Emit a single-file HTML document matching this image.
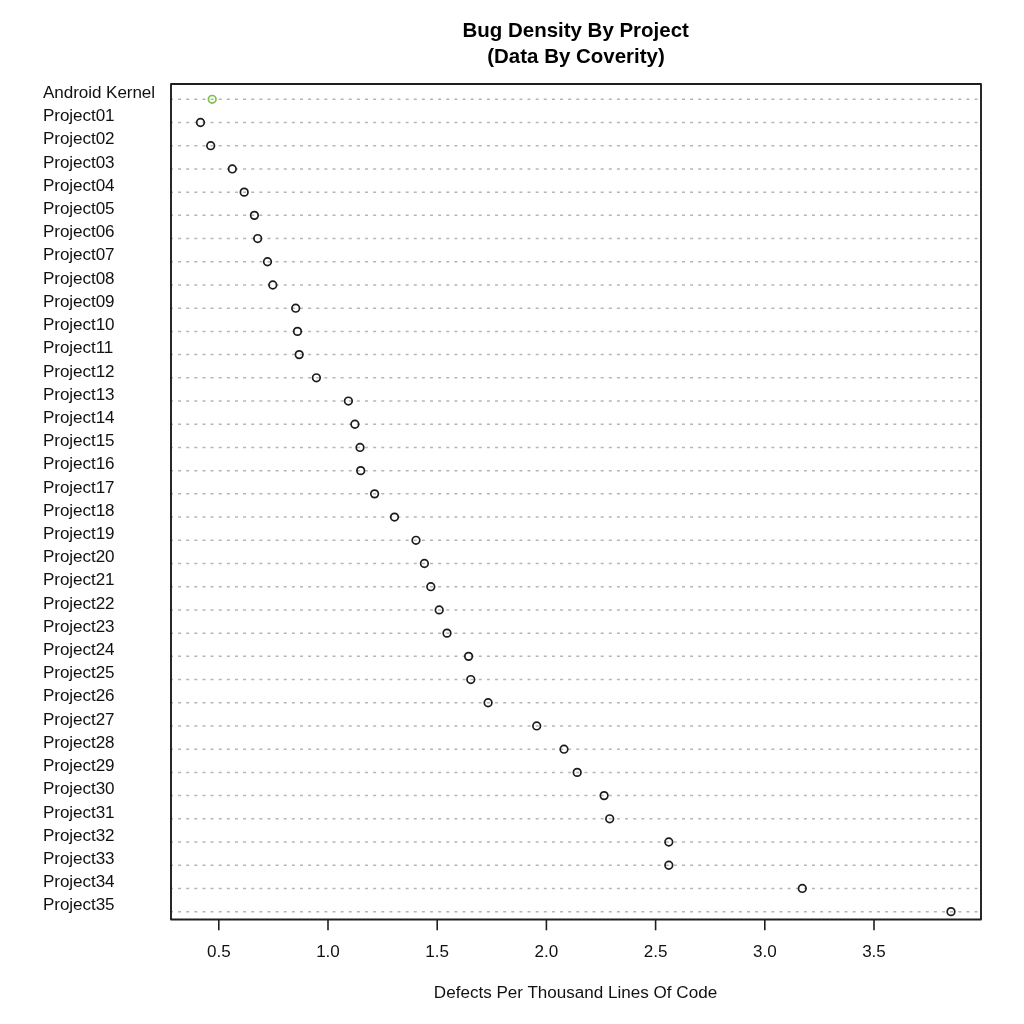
<!DOCTYPE html>
<html lang="en">
<head>
<meta charset="utf-8">
<title>Bug Density By Project</title>
<style>
html,body{margin:0;padding:0;background:#fff;}
body{width:1024px;height:1024px;overflow:hidden;}
svg{display:block;will-change:transform;}
text{font-family:"Liberation Sans",sans-serif;fill:#111;}
.lab{font-size:17.07px;letter-spacing:-0.06px;}
.ttl{font-size:20.48px;font-weight:bold;text-anchor:middle;fill:#000;}
.ax{font-size:17.07px;text-anchor:middle;}
.grid line{stroke:#b6b6b6;stroke-width:1.5;stroke-dasharray:3 5.127;}
.pts circle{fill:none;stroke:#1c1c1c;stroke-width:1.7;}
.frame{fill:none;stroke:#1e1e1e;stroke-width:1.9;stroke-linejoin:round;}
.ticks line{stroke:#1e1e1e;stroke-width:1.6;}
</style>
</head>
<body>
<svg width="1024" height="1024" viewBox="0 0 1024 1024">
<rect x="0" y="0" width="1024" height="1024" fill="#ffffff"/>
<text class="ttl" x="575.7" y="36.6">Bug Density By Project</text>
<text class="ttl" x="576" y="62.5">(Data By Coverity)</text>
<g class="lab">
<text x="43" y="98.00">Android Kernel</text>
<text x="43" y="121.21">Project01</text>
<text x="43" y="144.42">Project02</text>
<text x="43" y="167.63">Project03</text>
<text x="43" y="190.84">Project04</text>
<text x="43" y="214.05">Project05</text>
<text x="43" y="237.26">Project06</text>
<text x="43" y="260.47">Project07</text>
<text x="43" y="283.68">Project08</text>
<text x="43" y="306.89">Project09</text>
<text x="43" y="330.10">Project10</text>
<text x="43" y="353.31">Project11</text>
<text x="43" y="376.52">Project12</text>
<text x="43" y="399.73">Project13</text>
<text x="43" y="422.94">Project14</text>
<text x="43" y="446.15">Project15</text>
<text x="43" y="469.36">Project16</text>
<text x="43" y="492.57">Project17</text>
<text x="43" y="515.78">Project18</text>
<text x="43" y="538.99">Project19</text>
<text x="43" y="562.20">Project20</text>
<text x="43" y="585.41">Project21</text>
<text x="43" y="608.62">Project22</text>
<text x="43" y="631.83">Project23</text>
<text x="43" y="655.04">Project24</text>
<text x="43" y="678.25">Project25</text>
<text x="43" y="701.46">Project26</text>
<text x="43" y="724.67">Project27</text>
<text x="43" y="747.88">Project28</text>
<text x="43" y="771.09">Project29</text>
<text x="43" y="794.30">Project30</text>
<text x="43" y="817.51">Project31</text>
<text x="43" y="840.72">Project32</text>
<text x="43" y="863.93">Project33</text>
<text x="43" y="887.14">Project34</text>
<text x="43" y="910.35">Project35</text>
</g>
<g class="grid">
<line x1="169.95" y1="99.30" x2="980" y2="99.30"/>
<line x1="169.95" y1="122.51" x2="980" y2="122.51"/>
<line x1="169.95" y1="145.72" x2="980" y2="145.72"/>
<line x1="169.95" y1="168.93" x2="980" y2="168.93"/>
<line x1="169.95" y1="192.14" x2="980" y2="192.14"/>
<line x1="169.95" y1="215.35" x2="980" y2="215.35"/>
<line x1="169.95" y1="238.56" x2="980" y2="238.56"/>
<line x1="169.95" y1="261.77" x2="980" y2="261.77"/>
<line x1="169.95" y1="284.98" x2="980" y2="284.98"/>
<line x1="169.95" y1="308.19" x2="980" y2="308.19"/>
<line x1="169.95" y1="331.40" x2="980" y2="331.40"/>
<line x1="169.95" y1="354.61" x2="980" y2="354.61"/>
<line x1="169.95" y1="377.82" x2="980" y2="377.82"/>
<line x1="169.95" y1="401.03" x2="980" y2="401.03"/>
<line x1="169.95" y1="424.24" x2="980" y2="424.24"/>
<line x1="169.95" y1="447.45" x2="980" y2="447.45"/>
<line x1="169.95" y1="470.66" x2="980" y2="470.66"/>
<line x1="169.95" y1="493.87" x2="980" y2="493.87"/>
<line x1="169.95" y1="517.08" x2="980" y2="517.08"/>
<line x1="169.95" y1="540.29" x2="980" y2="540.29"/>
<line x1="169.95" y1="563.50" x2="980" y2="563.50"/>
<line x1="169.95" y1="586.71" x2="980" y2="586.71"/>
<line x1="169.95" y1="609.92" x2="980" y2="609.92"/>
<line x1="169.95" y1="633.13" x2="980" y2="633.13"/>
<line x1="169.95" y1="656.34" x2="980" y2="656.34"/>
<line x1="169.95" y1="679.55" x2="980" y2="679.55"/>
<line x1="169.95" y1="702.76" x2="980" y2="702.76"/>
<line x1="169.95" y1="725.97" x2="980" y2="725.97"/>
<line x1="169.95" y1="749.18" x2="980" y2="749.18"/>
<line x1="169.95" y1="772.39" x2="980" y2="772.39"/>
<line x1="169.95" y1="795.60" x2="980" y2="795.60"/>
<line x1="169.95" y1="818.81" x2="980" y2="818.81"/>
<line x1="169.95" y1="842.02" x2="980" y2="842.02"/>
<line x1="169.95" y1="865.23" x2="980" y2="865.23"/>
<line x1="169.95" y1="888.44" x2="980" y2="888.44"/>
<line x1="169.95" y1="911.65" x2="980" y2="911.65"/>
</g>
<g class="pts">
<circle cx="212.2" cy="99.30" r="3.8" style="stroke:#7cc242"/>
<circle cx="200.5" cy="122.51" r="3.8"/>
<circle cx="210.7" cy="145.72" r="3.8"/>
<circle cx="232.3" cy="168.93" r="3.8"/>
<circle cx="244.2" cy="192.14" r="3.8"/>
<circle cx="254.4" cy="215.35" r="3.8"/>
<circle cx="257.7" cy="238.56" r="3.8"/>
<circle cx="267.5" cy="261.77" r="3.8"/>
<circle cx="272.8" cy="284.98" r="3.8"/>
<circle cx="295.7" cy="308.19" r="3.8"/>
<circle cx="297.5" cy="331.40" r="3.8"/>
<circle cx="299.2" cy="354.61" r="3.8"/>
<circle cx="316.4" cy="377.82" r="3.8"/>
<circle cx="348.4" cy="401.03" r="3.8"/>
<circle cx="354.9" cy="424.24" r="3.8"/>
<circle cx="360.0" cy="447.45" r="3.8"/>
<circle cx="360.7" cy="470.66" r="3.8"/>
<circle cx="374.6" cy="493.87" r="3.8"/>
<circle cx="394.5" cy="517.08" r="3.8"/>
<circle cx="416.0" cy="540.29" r="3.8"/>
<circle cx="424.4" cy="563.50" r="3.8"/>
<circle cx="430.8" cy="586.71" r="3.8"/>
<circle cx="439.2" cy="609.92" r="3.8"/>
<circle cx="447.0" cy="633.13" r="3.8"/>
<circle cx="468.6" cy="656.34" r="3.8"/>
<circle cx="470.8" cy="679.55" r="3.8"/>
<circle cx="488.1" cy="702.76" r="3.8"/>
<circle cx="536.7" cy="725.97" r="3.8"/>
<circle cx="564.0" cy="749.18" r="3.8"/>
<circle cx="577.2" cy="772.39" r="3.8"/>
<circle cx="604.1" cy="795.60" r="3.8"/>
<circle cx="609.7" cy="818.81" r="3.8"/>
<circle cx="668.8" cy="842.02" r="3.8"/>
<circle cx="668.8" cy="865.23" r="3.8"/>
<circle cx="802.3" cy="888.44" r="3.8"/>
<circle cx="951.0" cy="911.65" r="3.8"/>
</g>
<rect class="frame" x="171" y="84" width="810" height="835.5"/>
<g class="ticks">
<line x1="218.8" y1="919.5" x2="218.8" y2="930.3"/>
<line x1="328.0" y1="919.5" x2="328.0" y2="930.3"/>
<line x1="437.2" y1="919.5" x2="437.2" y2="930.3"/>
<line x1="546.4" y1="919.5" x2="546.4" y2="930.3"/>
<line x1="655.6" y1="919.5" x2="655.6" y2="930.3"/>
<line x1="764.8" y1="919.5" x2="764.8" y2="930.3"/>
<line x1="874.0" y1="919.5" x2="874.0" y2="930.3"/>
</g>
<g class="ax">
<text x="218.8" y="956.7">0.5</text>
<text x="328.0" y="956.7">1.0</text>
<text x="437.2" y="956.7">1.5</text>
<text x="546.4" y="956.7">2.0</text>
<text x="655.6" y="956.7">2.5</text>
<text x="764.8" y="956.7">3.0</text>
<text x="874.0" y="956.7">3.5</text>
<text x="575.5" y="997.5">Defects Per Thousand Lines Of Code</text>
</g>
</svg>
</body>
</html>
